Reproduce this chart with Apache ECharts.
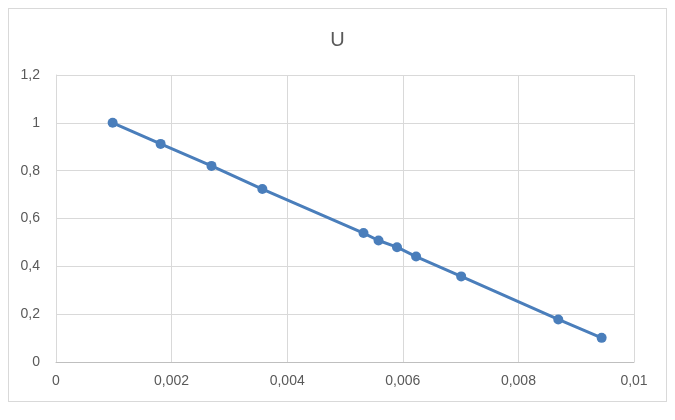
<!DOCTYPE html>
<html>
<head>
<meta charset="utf-8">
<script src="https://cdn.jsdelivr.net/npm/echarts@6/dist/echarts.min.js"></script>
<style>
html,body{margin:0;padding:0;background:#fff;}
#frame{position:absolute;left:8px;top:8px;width:659px;height:394px;border:1px solid #d9d9d9;box-sizing:border-box;}
#chart{position:absolute;left:0;top:0;width:675px;height:420px;}
</style>
</head>
<body>
<div id="frame"></div>
<div id="chart"></div>
<script>
const titleText = "U";
const xValues = [0.00098, 0.00181, 0.00269, 0.00357, 0.00532, 0.00558, 0.0059, 0.00623, 0.00701, 0.00869, 0.00944];
const uValues = [1.0, 0.912, 0.820, 0.723, 0.539, 0.508, 0.480, 0.441, 0.358, 0.178, 0.101];
const xTicks = [0, 0.002, 0.004, 0.006, 0.008, 0.01];
const yTicks = [0, 0.2, 0.4, 0.6, 0.8, 1, 1.2];

const fmt = v => String(+v.toFixed(6)).replace('.', ',');
const font = 'Liberation Sans, Arial, sans-serif';
const chart = echarts.init(document.getElementById('chart'), null, {renderer: 'canvas'});
chart.setOption({
  backgroundColor: 'transparent',
  animation: false,
  title: {
    text: titleText, left: 'center', top: 25,
    textStyle: {fontFamily: font, fontSize: 20, fontWeight: 'normal', color: '#595959'}
  },
  grid: {left: 56, right: 41, top: 75, bottom: 58, containLabel: false},
  xAxis: {
    type: 'value', min: xTicks[0], max: xTicks[xTicks.length - 1], interval: 0.002,
    axisLine: {show: true, lineStyle: {color: '#bfbfbf', width: 1}},
    axisTick: {show: false},
    splitLine: {show: true, lineStyle: {color: '#d9d9d9', width: 1}},
    axisLabel: {formatter: fmt, color: '#595959', fontFamily: font, fontSize: 14, margin: 12}
  },
  yAxis: {
    type: 'value', min: yTicks[0], max: yTicks[yTicks.length - 1], interval: 0.2,
    axisLine: {show: true, lineStyle: {color: '#d9d9d9', width: 1}},
    axisTick: {show: false},
    splitLine: {show: true, lineStyle: {color: '#d9d9d9', width: 1}},
    axisLabel: {formatter: fmt, color: '#595959', fontFamily: font, fontSize: 14, margin: 16}
  },
  series: [{
    type: 'line',
    data: xValues.map((x, i) => [x, uValues[i]]),
    symbol: 'circle', symbolSize: 10,
    lineStyle: {color: '#4a7ebb', width: 3},
    itemStyle: {color: '#4a7ebb'}
  }]
});
</script>
</body>
</html>
